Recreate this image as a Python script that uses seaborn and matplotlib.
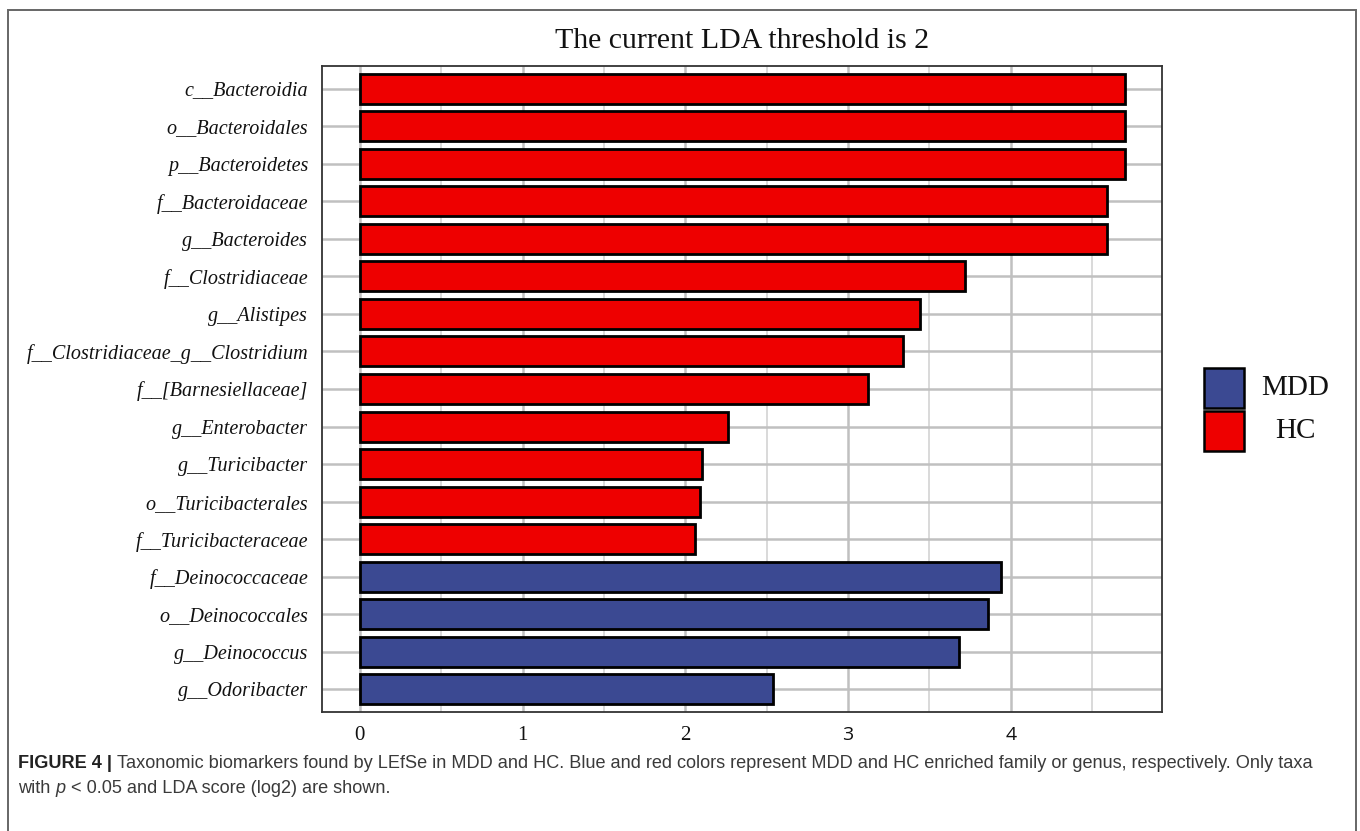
import matplotlib
matplotlib.use("Agg")
import matplotlib.pyplot as plt
from matplotlib.patches import Rectangle
from matplotlib.ticker import MultipleLocator
import seaborn as sns
import pandas as pd

# LEfSe results: taxa ordered top to bottom, LDA score (log10), enriched group
taxa = [
    "c__Bacteroidia", "o__Bacteroidales", "p__Bacteroidetes", "f__Bacteroidaceae",
    "g__Bacteroides", "f__Clostridiaceae", "g__Alistipes",
    "f__Clostridiaceae_g__Clostridium", "f__[Barnesiellaceae]", "g__Enterobacter",
    "g__Turicibacter", "o__Turicibacterales", "f__Turicibacteraceae",
    "f__Deinococcaceae", "o__Deinococcales", "g__Deinococcus", "g__Odoribacter",
]
lda_scores = [4.70, 4.70, 4.70, 4.59, 4.59, 3.72, 3.44, 3.34, 3.12, 2.26,
              2.10, 2.09, 2.06, 3.94, 3.86, 3.68, 2.54]
groups = ["HC"] * 13 + ["MDD"] * 4

group_order = ["MDD", "HC"]
group_colors = {"MDD": "#3B4992", "HC": "#EE0000"}
x_ticks = [0, 1, 2, 3, 4]

title = "The current LDA threshold is 2"

df = pd.DataFrame({"taxon": taxa, "lda": lda_scores, "group": groups})

sns.set_style("white")
plt.rcParams["font.family"] = ["Liberation Serif", "DejaVu Serif"]

W, H = 1360, 831
fig = plt.figure(figsize=(W / 100, H / 100), dpi=100)
ax = fig.add_axes([322 / W, 1 - 712 / H, (1162 - 322) / W, (712 - 66) / H])

ax.set_axisbelow(True)
sns.barplot(data=df, x="lda", y="taxon", hue="group", order=taxa,
            hue_order=group_order, palette=group_colors, dodge=False,
            width=0.8, edgecolor="black", linewidth=2.0, saturation=1,
            legend=False, ax=ax, zorder=3)

ax.set_xlim(-0.233, 4.93)
ax.set_ylim(len(taxa) - 1 + 0.6, -0.6)

ax.xaxis.set_major_locator(MultipleLocator(1))
ax.xaxis.set_minor_locator(MultipleLocator(0.5))
ax.grid(which="major", axis="both", color="#C0C0C0", linewidth=1.8)
ax.grid(which="minor", axis="x", color="#D0D0D0", linewidth=1.1)
ax.set_xticks(x_ticks)
ax.set_xticklabels([str(t) for t in x_ticks])

for side in ax.spines.values():
    side.set_visible(True)
    side.set_color("#333333")
    side.set_linewidth(1.3)

ax.tick_params(axis="both", which="major", length=5, width=1.5, color="black",
               labelcolor="#111111", pad=5)
ax.tick_params(axis="x", which="minor", length=0)
ax.tick_params(axis="x", labelsize=15)
ax.tick_params(axis="y", labelsize=14.5)
for lab in ax.get_yticklabels():
    lab.set_fontstyle("italic")
for lab in ax.get_xticklabels():
    if lab.get_text() in ("3", "4"):
        lab.set_fontfamily(["Open Sans", "DejaVu Sans"])
        lab.set_fontsize(14)

ax.set_xlabel("")
ax.set_ylabel("")
ax.set_title(title, fontsize=21.5, color="#111111", pad=13)

# Legend keys with centred labels
key_x0, key_w = 1204, 40
key_tops = [368, 411]
for grp, top in zip(group_order, key_tops):
    fig.add_artist(Rectangle((key_x0 / W, 1 - (top + key_w) / H), key_w / W, key_w / H,
                             transform=fig.transFigure, facecolor=group_colors[grp],
                             edgecolor="black", linewidth=1.8))
    fig.text(1295 / W, 1 - (top + key_w / 2) / H, grp, ha="center", va="center",
             fontsize=21, color="#111111")

# Outer frame of the figure panel
fig.add_artist(Rectangle((8 / W, -0.05), (1356 - 8) / W, 1 - 10 / H + 0.05,
                         transform=fig.transFigure, fill=False,
                         edgecolor="#666666", linewidth=1.4))

# Caption
cap_font = ["Liberation Sans", "DejaVu Sans"]
cap_color = "#3a3a3a"
cap_size = 13.1
y1 = 1 - 768 / H
y2 = 1 - 793 / H
t0 = fig.text(18 / W, y1, "FIGURE 4 | ", fontsize=cap_size, fontweight="bold",
              family=cap_font, color="#222222", va="baseline")
fig.canvas.draw()
renderer = fig.canvas.get_renderer()
bb = t0.get_window_extent(renderer)
fig.text(bb.x1 / W, y1,
         "Taxonomic biomarkers found by LEfSe in MDD and HC. Blue and red colors "
         "represent MDD and HC enriched family or genus, respectively. Only taxa",
         fontsize=cap_size, family=cap_font, color=cap_color, va="baseline")
parts = [("with ", "normal"), ("p", "italic"),
         (" < 0.05 and LDA score (log2) are shown.", "normal")]
xpos = 18
for txt, style in parts:
    t = fig.text(xpos / W, y2, txt, fontsize=cap_size, family=cap_font,
                 style=style, color=cap_color, va="baseline")
    fig.canvas.draw()
    xpos = t.get_window_extent(renderer).x1

fig.savefig("out.png", dpi=100)
